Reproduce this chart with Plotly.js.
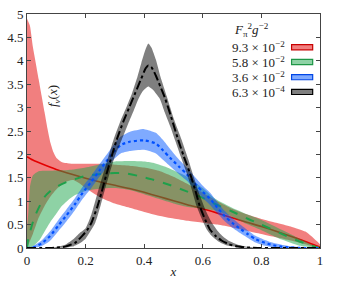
<!DOCTYPE html>
<html>
<head>
<meta charset="utf-8">
<script src="https://cdn.plot.ly/plotly-3.0.1.min.js"></script>
<style>html,body{margin:0;padding:0;background:#fff;}#chart{width:337px;height:283px;}</style>
</head>
<body>
<div id="chart"></div>
<script>
// ---- Data ----
// Series labels (F_pi^2 g^-2)
const seriesLabels = ["9.3 × 10<sup>−2</sup>", "5.8 × 10<sup>−2</sup>", "3.6 × 10<sup>−2</sup>", "6.3 × 10<sup>−4</sup>"];

// Red (9.3e-2)
const redUpX = [0,0.01,0.02,0.03,0.04,0.05,0.06,0.07,0.08,0.09,0.1,0.12,0.15,0.2,0.25,0.3,0.35,0.4,0.45,0.5,0.55,0.6,0.65,0.7,0.75,0.8,0.85,0.9,0.95,0.98,1.0];
const redUpY = [4.9,4.75,4.3,3.95,3.6,3.25,2.9,2.55,2.25,2.05,1.93,1.83,1.8,1.8,1.8,1.78,1.76,1.72,1.65,1.52,1.36,1.18,1.0,0.84,0.72,0.62,0.54,0.46,0.35,0.2,0.08];
const redLoX = [0,0.02,0.04,0.06,0.08,0.1,0.12,0.14,0.16,0.18,0.2,0.25,0.3,0.35,0.4,0.45,0.5,0.55,0.6,0.65,0.7,0.75,0.8,0.85,0.9,0.95,1.0];
const redLoY = [0,0.3,0.65,0.9,1.1,1.25,1.36,1.43,1.45,1.38,1.28,1.08,0.95,0.86,0.77,0.69,0.63,0.58,0.54,0.5,0.44,0.37,0.3,0.23,0.16,0.08,0.0];
const redMidX = [0,0.02,0.05,0.1,0.15,0.2,0.25,0.3,0.35,0.4,0.45,0.5,0.55,0.6,0.65,0.7,0.75,0.8,0.85,0.9,0.95,1.0];
const redMidY = [1.95,1.88,1.8,1.68,1.58,1.49,1.41,1.34,1.27,1.19,1.1,1.01,0.92,0.84,0.745,0.645,0.55,0.46,0.36,0.25,0.14,0.02];

// Green (5.8e-2)
const greenUpX = [0,0.005,0.01,0.02,0.04,0.08,0.12,0.16,0.2,0.25,0.3,0.35,0.4,0.43,0.47,0.5,0.545,0.6,0.642,0.7,0.755,0.8,0.869,0.93,0.98,1.0];
const greenUpY = [0,0.8,1.3,1.55,1.64,1.65,1.66,1.68,1.72,1.79,1.85,1.86,1.85,1.82,1.74,1.66,1.53,1.28,1.05,0.86,0.71,0.6,0.39,0.2,0.05,0];
const greenLoX = [0,0.02,0.044,0.06,0.078,0.1,0.118,0.14,0.164,0.2,0.25,0.3,0.35,0.4,0.45,0.5,0.545,0.6,0.642,0.7,0.755,0.8,0.869,0.93,1.0];
const greenLoY = [0,0.03,0.18,0.35,0.54,0.73,0.89,1.02,1.13,1.22,1.27,1.28,1.24,1.15,1.05,0.95,0.88,0.84,0.8,0.67,0.5,0.38,0.18,0.05,0];
const greenMidX = [0,0.004,0.015,0.027,0.045,0.061,0.08,0.107,0.135,0.164,0.2,0.25,0.3,0.334,0.38,0.431,0.49,0.545,0.6,0.642,0.7,0.755,0.8,0.869,0.93,0.983,1.0];
const greenMidY = [0,0.18,0.45,0.68,0.92,1.1,1.22,1.33,1.41,1.47,1.54,1.58,1.6,1.6,1.54,1.46,1.34,1.21,1.07,0.94,0.78,0.62,0.5,0.3,0.14,0.03,0];

// Blue (3.6e-2)
const blueX   = [0,0.02,0.05,0.078,0.107,0.135,0.164,0.19,0.22,0.249,0.277,0.3,0.32,0.35,0.4,0.44,0.465,0.488,0.52,0.545,0.58,0.6,0.625,0.65,0.675,0.7,0.73,0.755,0.78,0.812,0.84,0.869,0.9,0.95,1.0];
const blueMidY = [0,0.01,0.1,0.25,0.48,0.7,0.94,1.18,1.42,1.67,1.9,2.08,2.2,2.27,2.3,2.23,2.08,1.93,1.73,1.58,1.33,1.2,1.05,0.86,0.68,0.54,0.4,0.29,0.19,0.11,0.06,0.03,0.01,0,0];
const blueUpY  = [0,0.04,0.16,0.35,0.6,0.83,1.07,1.31,1.55,1.8,2.04,2.24,2.38,2.48,2.54,2.46,2.3,2.12,1.88,1.72,1.47,1.33,1.18,0.98,0.79,0.64,0.49,0.37,0.26,0.17,0.11,0.07,0.04,0.01,0];
const blueLoY  = [0,0,0.04,0.15,0.36,0.57,0.81,1.05,1.29,1.54,1.76,1.92,2.02,2.07,2.1,2.02,1.88,1.75,1.57,1.44,1.2,1.07,0.92,0.74,0.57,0.44,0.31,0.21,0.12,0.05,0.02,0,0,0,0];

// Black (6.3e-4)
const blackUpX = [0,0.08,0.1,0.13,0.16,0.18,0.2,0.22,0.244,0.26,0.278,0.295,0.32,0.34,0.357,0.375,0.39,0.405,0.414,0.425,0.44,0.455,0.477,0.5,0.528,0.55,0.57,0.59,0.61,0.63,0.65,0.67,0.69,0.72,0.76,0.8,1.0];
const blackUpY = [0,0,0.02,0.07,0.2,0.32,0.42,0.72,1.25,1.58,1.96,2.31,2.73,3.02,3.28,3.62,3.95,4.25,4.37,4.28,4.02,3.67,3.24,2.78,2.31,1.9,1.5,1.12,0.8,0.55,0.37,0.24,0.15,0.07,0.02,0,0];
const blackLoX = [0,0.1,0.13,0.16,0.18,0.2,0.233,0.25,0.266,0.283,0.3,0.323,0.345,0.365,0.38,0.395,0.414,0.43,0.44,0.454,0.47,0.49,0.505,0.525,0.545,0.56,0.579,0.6,0.614,0.63,0.653,0.68,0.72,0.76,1.0];
const blackLoY = [0,0,0.01,0.04,0.1,0.2,0.54,0.88,1.25,1.62,1.96,2.31,2.65,2.95,3.18,3.35,3.45,3.38,3.3,3.18,2.9,2.58,2.31,1.95,1.6,1.3,0.89,0.57,0.39,0.26,0.14,0.06,0.02,0,0];
const blackMidX = [0,0.08,0.1,0.13,0.164,0.19,0.205,0.22,0.24,0.255,0.27,0.289,0.306,0.33,0.35,0.37,0.39,0.405,0.414,0.425,0.44,0.455,0.47,0.49,0.516,0.535,0.556,0.575,0.59,0.61,0.625,0.645,0.664,0.69,0.72,0.76,0.8,1.0];
const blackMidY = [0,0,0.01,0.03,0.11,0.27,0.38,0.54,0.88,1.2,1.55,1.96,2.31,2.72,3.02,3.32,3.62,3.84,3.9,3.86,3.68,3.45,3.22,2.84,2.31,1.96,1.6,1.22,0.89,0.58,0.39,0.25,0.16,0.08,0.03,0.01,0,0];

// tick values
const xTicks = [0,0.2,0.4,0.6,0.8,1];
const yTicks = [0,0.5,1,1.5,2,2.5,3,3.5,4,4.5,5];

// ---- styles ----
const styles = [
  {fill:'rgba(228,0,0,0.5)', line:'rgb(228,0,0)', dash:'solid', width:1.6, edge:'rgb(200,0,0)'},
  {fill:'rgba(30,165,75,0.5)', line:'rgb(30,160,75)', dash:'dash', width:2, edge:'rgb(30,150,70)'},
  {fill:'rgba(0,85,255,0.5)', line:'rgb(0,80,255)', dash:'dot', width:2.2, edge:'rgb(0,70,230)'},
  {fill:'rgba(0,0,0,0.5)', line:'rgb(0,0,0)', dash:'dashdot', width:2, edge:'rgb(0,0,0)'}
];
const bands = [
  [redUpX, redUpY, redLoX, redLoY, redMidX, redMidY],
  [greenUpX, greenUpY, greenLoX, greenLoY, greenMidX, greenMidY],
  [blueX, blueUpY, blueX, blueLoY, blueX, blueMidY],
  [blackUpX, blackUpY, blackLoX, blackLoY, blackMidX, blackMidY]
];

const traces = [];
bands.forEach((b, i) => {
  const [ux, uy, lx, ly, mx, my] = b;
  traces.push({
    x: ux.concat(lx.slice().reverse()),
    y: uy.concat(ly.slice().reverse()),
    type: 'scatter', mode: 'lines', fill: 'toself',
    fillcolor: styles[i].fill, line: {width: 0, shape: 'spline', smoothing: 0.5},
    hoverinfo: 'skip', showlegend: false
  });
  traces.push({
    x: mx, y: my, type: 'scatter', mode: 'lines', name: seriesLabels[i],
    line: {color: styles[i].line, dash: styles[i].dash, width: styles[i].width, shape: 'spline', smoothing: 0.6},
    showlegend: false
  });
});

const fam = '"Liberation Serif", "DejaVu Serif", serif';
const font = {family: fam, size: 13, color: '#222'};

// legend as annotations (symbols on the right like the reference)
const legY = [0.858, 0.795, 0.730, 0.667];
const annotations = [
  {xref:'paper', yref:'paper', x:0.053, y:0.705, text:'<i>f<sub>v</sub></i>(<i>x</i>)', textangle:-90,
   showarrow:false, font:{family:fam, size:13, color:'#222'}},
  {xref:'paper', yref:'paper', x:0.765, y:0.93, xanchor:'center', yanchor:'middle',
   text:'<i>F</i><sub>π</sub><sup>2</sup><i>g</i><sup>−2</sup>',
   showarrow:false, font:{family:fam, size:13, color:'#222'}}
];
const shapes = [];
seriesLabels.forEach((t, i) => {
  annotations.push({xref:'paper', yref:'paper', x:0.887, y:legY[i], xanchor:'right', yanchor:'middle',
    text:t, showarrow:false, font:{family:fam, size:13, color:'#222'}});
  shapes.push({type:'rect', xref:'paper', yref:'paper', x0:0.903, x1:0.975, y0:legY[i]-0.011, y1:legY[i]+0.011,
    fillcolor: styles[i].fill, line:{color: styles[i].edge, width:1.2}});
});

const axisCommon = {
  showgrid:false, zeroline:false, showline:true, linecolor:'#444', linewidth:1,
  mirror:'ticks', ticks:'inside', ticklen:4, tickcolor:'#444', tickwidth:1,
  tickfont: font, fixedrange:true
};

const layout = {
  width:337, height:283,
  margin:{l:27, r:17, t:14, b:35},
  paper_bgcolor:'#fff', plot_bgcolor:'#fff',
  font: font,
  showlegend:false,
  xaxis: Object.assign({}, axisCommon, {range:[0,1], tickvals:xTicks, ticktext:xTicks.map(String),
    title:{text:'<i>x</i>', font:{family:fam, size:13, color:'#222'}, standoff:0}}),
  yaxis: Object.assign({}, axisCommon, {range:[0,5], tickvals:yTicks, ticktext:yTicks.map(String)}),
  annotations: annotations,
  shapes: shapes
};

Plotly.newPlot('chart', traces, layout, {staticPlot:true, displayModeBar:false});
</script>
</body>
</html>
